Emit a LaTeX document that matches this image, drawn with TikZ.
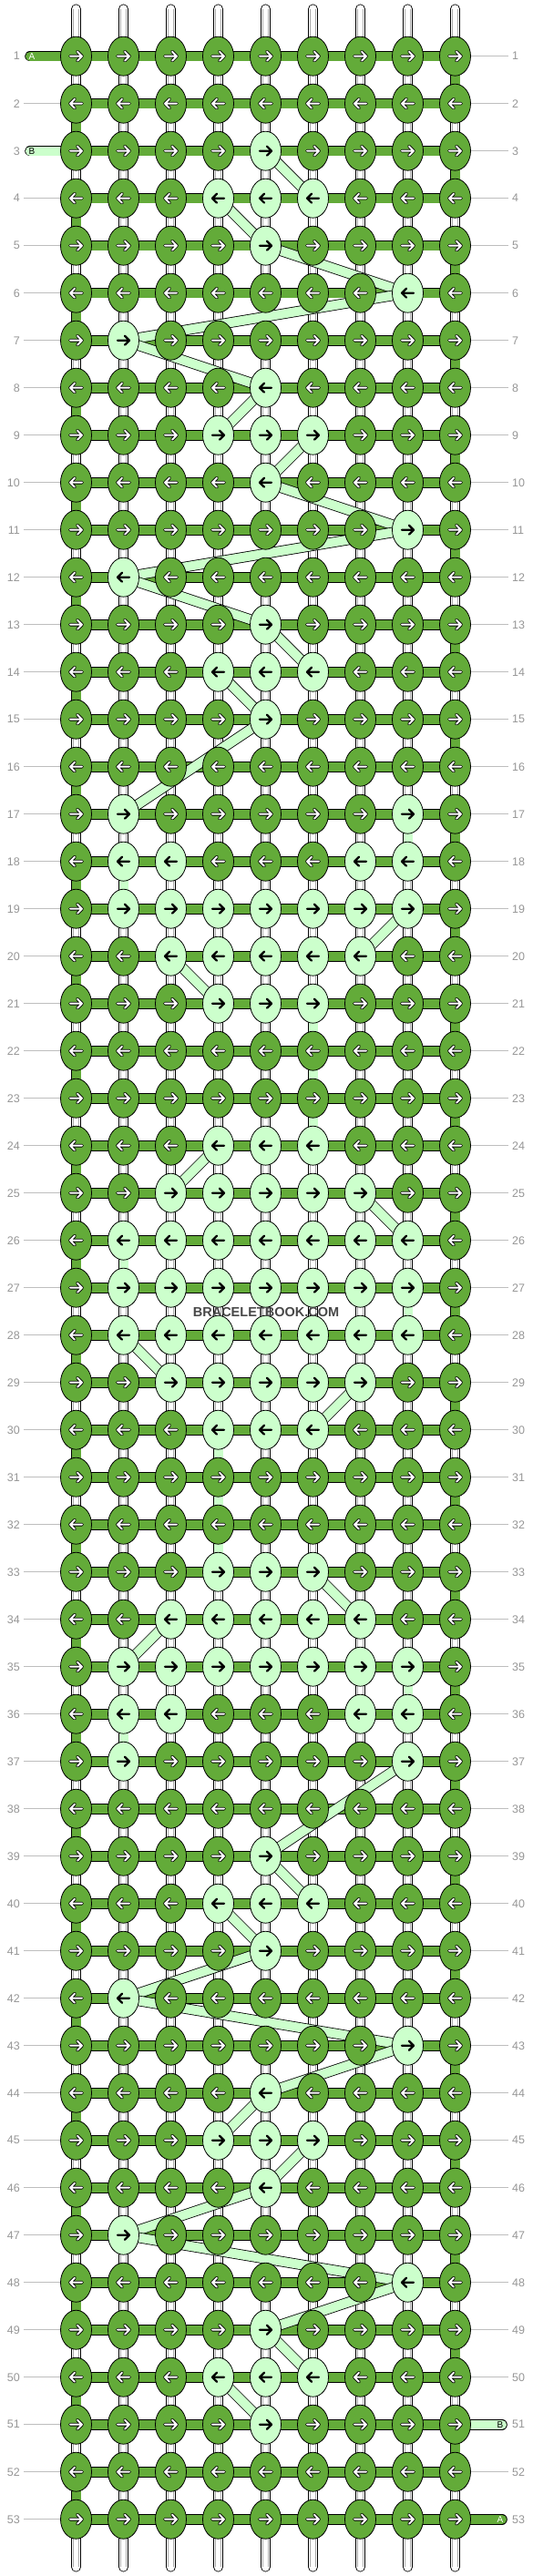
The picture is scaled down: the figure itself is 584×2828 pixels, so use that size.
\documentclass[tikz,border=0pt]{standalone}
\usepackage{fontspec}
\setmainfont{Liberation Sans}
\usetikzlibrary{shapes.geometric}
\definecolor{dg}{RGB}{99,171,57}
\definecolor{lg}{RGB}{204,255,204}
\definecolor{lblgray}{RGB}{150,150,150}
\definecolor{linegray}{RGB}{190,190,190}
\definecolor{wgray}{RGB}{170,170,170}
\begin{document}
\begin{tikzpicture}[x=1pt,y=-1pt,
  dknot/.style={ellipse, draw=black, line width=0.8pt, fill=dg, minimum width=34pt, minimum height=43pt, inner sep=0pt},
  lknot/.style={dknot, fill=lg},
  barout/.style={line width=11.6pt, draw=black},
  gbar/.style={line width=10pt, draw=dg},
  lbar/.style={line width=10pt, draw=lg},
  warpline/.style={line width=0.9pt, draw=wgray},
  glin/.style={line width=1pt, draw=linegray},
  rowlab/.style={text=lblgray, font=\fontsize{12.5}{14}\selectfont, inner sep=0pt},
  endlab/.style={font=\fontsize{10}{12}\selectfont, inner sep=0pt},
  darro/.style={line width=3.6pt, draw=black, line cap=round, line join=round},
  darri/.style={line width=2pt, draw=white, line cap=round, line join=round},
  larr/.style={line width=2.2pt, draw=black, line cap=round, line join=round}
]
\useasboundingbox (0,0) rectangle (584,2828);

% light knot lookup
\foreach \ri/\a/\b in {3/5/5, 4/4/6, 5/5/5, 6/8/8, 7/2/2, 8/5/5, 9/4/6, 10/5/5, 11/8/8, 12/2/2, 13/5/5, 14/4/6, 15/5/5, 17/2/2, 17/8/8, 18/2/3, 18/7/8, 19/2/8, 20/3/7, 21/4/6, 24/4/6, 25/3/7, 26/2/8, 27/2/8, 28/2/8, 29/3/7, 30/4/6, 33/4/6, 34/3/7, 35/2/8, 36/2/3, 36/7/8, 37/2/2, 37/8/8, 39/5/5, 40/4/6, 41/5/5, 42/2/2, 43/8/8, 44/5/5, 45/4/6, 46/5/5, 47/2/2, 48/8/8, 49/5/5, 50/4/6, 51/5/5}{
  \foreach \ci in {\a,...,\b}{\expandafter\gdef\csname lt-\ri-\ci\endcsname{1}}
}

% grid coordinates
\foreach \ri in {1,...,53}{
  \foreach \ci in {1,...,9}{
    \coordinate (p-\ri-\ci) at ({83.5+52*(\ci-1)},{61.7+52*(\ri-1)});
  }
}

% warp strings
\foreach \ci in {1,...,9}{
  \coordinate (st-\ci) at ({83.5+52*(\ci-1)},10);
  \coordinate (sb-\ci) at ({83.5+52*(\ci-1)},2818);
  \draw[line width=11pt, line cap=round] (st-\ci) -- (sb-\ci);
  \draw[line width=9.4pt, line cap=round, white] (st-\ci) -- (sb-\ci);
  \draw[warpline] ([xshift=-2.8pt]st-\ci) -- ([xshift=-2.8pt]sb-\ci);
  \draw[warpline] ([xshift=2.8pt]st-\ci) -- ([xshift=2.8pt]sb-\ci);
}

% edge turns of strand A
\foreach \ri in {1,...,52}{
  \pgfmathtruncatemacro{\rn}{\ri+1}
  \ifodd\ri \def\tc{9}\else \def\tc{1}\fi
  \draw[barout] (p-\ri-\tc) -- (p-\rn-\tc);
  \draw[gbar] (p-\ri-\tc) -- (p-\rn-\tc);
}

% horizontal bars
\foreach \ri in {1,...,53}{
  \draw[barout] (p-\ri-1) -- (p-\ri-9);
  \draw[gbar] (p-\ri-1) -- (p-\ri-9);
}

% vertical runs of strand B
\foreach \ri/\ci in {17/8, 18/2, 21/6, 22/6, 23/6, 26/2, 27/8, 30/4, 31/4, 32/4, 35/8, 36/2}{
  \pgfmathtruncatemacro{\rn}{\ri+1}
  \draw[barout] (p-\ri-\ci) -- (p-\rn-\ci);
  \draw[lbar] (p-\ri-\ci) -- (p-\rn-\ci);
}

% diagonal runs of strand B
\foreach \ra/\ca/\rb/\cb in {3/5/4/6, 4/4/5/5, 5/5/6/8, 6/8/7/2, 7/2/8/5, 8/5/9/4, 9/6/10/5, 10/5/11/8, 11/8/12/2, 12/2/13/5, 13/5/14/6, 14/4/15/5, 15/5/17/2, 19/8/20/7, 20/3/21/4, 24/4/25/3, 25/7/26/8, 28/2/29/3, 29/7/30/6, 33/6/34/7, 34/3/35/2, 37/8/39/5, 39/5/40/6, 40/4/41/5, 41/5/42/2, 42/2/43/8, 43/8/44/5, 44/5/45/4, 45/6/46/5, 46/5/47/2, 47/2/48/8, 48/8/49/5, 49/5/50/6, 50/4/51/5}{
  \draw[barout] (p-\ra-\ca) -- (p-\rb-\cb);
  \draw[lbar] (p-\ra-\ca) -- (p-\rb-\cb);
}

% row labels and guide lines
\foreach \ri in {1,...,53}{
  \pgfmathsetmacro{\yy}{61.7+52*(\ri-1)}
  \coordinate (gl-\ri) at (26,\yy);
  \coordinate (gr-\ri) at (558,\yy);
  \ifnum\ri=1 \else\ifnum\ri=3 \else \draw[glin] (gl-\ri) -- (p-\ri-1);\fi\fi
  \ifnum\ri=51 \else\ifnum\ri=53 \else \draw[glin] (p-\ri-9) -- (gr-\ri);\fi\fi
  \node[rowlab, anchor=east] (ll-\ri) at (22,\yy) {\ri};
  \node[rowlab, anchor=west] (rl-\ri) at (562,\yy) {\ri};
}

% strand ends
\coordinate (aS) at (33,61.7);
\coordinate (bS) at (33,165.7);
\coordinate (bE) at (551,2661.7);
\coordinate (aE) at (551,2765.7);
\draw[barout, line cap=round] (aS) -- (p-1-1);
\draw[gbar, line cap=round] (aS) -- (p-1-1);
\draw[barout, line cap=round] (bS) -- (p-3-1);
\draw[lbar, line cap=round] (bS) -- (p-3-1);
\draw[barout, line cap=round] (p-51-9) -- (bE);
\draw[lbar, line cap=round] (p-51-9) -- (bE);
\draw[barout, line cap=round] (p-53-9) -- (aE);
\draw[gbar, line cap=round] (p-53-9) -- (aE);
\node[endlab, text=white] (la1) at (35,61.7) {A};
\node[endlab, text=black] (lb1) at (35,165.7) {B};
\node[endlab, text=black] (lb2) at (549,2661.7) {B};
\node[endlab, text=white] (la2) at (549,2765.7) {A};

% knots
\foreach \ri in {1,...,53}{
  \ifodd\ri \def\sg{1}\else \def\sg{-1}\fi
  \foreach \ci in {1,...,9}{
    \ifcsname lt-\ri-\ci\endcsname
      \node[lknot] (k-\ri-\ci) at (p-\ri-\ci) {};
      \begin{scope}[shift={(p-\ri-\ci)}, xscale=\sg]
        \draw[larr] (-6.5,0) -- (6.5,0) (1.5,-5) -- (6.5,0) -- (1.5,5);
      \end{scope}
    \else
      \node[dknot] (k-\ri-\ci) at (p-\ri-\ci) {};
      \begin{scope}[shift={(p-\ri-\ci)}, xscale=\sg]
        \draw[darro] (-6.5,0) -- (6.5,0) (1.5,-5) -- (6.5,0) -- (1.5,5);
        \draw[darri] (-6.5,0) -- (6.5,0) (1.5,-5) -- (6.5,0) -- (1.5,5);
      \end{scope}
    \fi
  }
}

% watermark
\node[font=\bfseries\fontsize{14.5}{17}\selectfont, text=black!72, inner sep=0pt] (wm) at (292,1440) {BRACELETBOOK.COM};
\end{tikzpicture}
\end{document}
